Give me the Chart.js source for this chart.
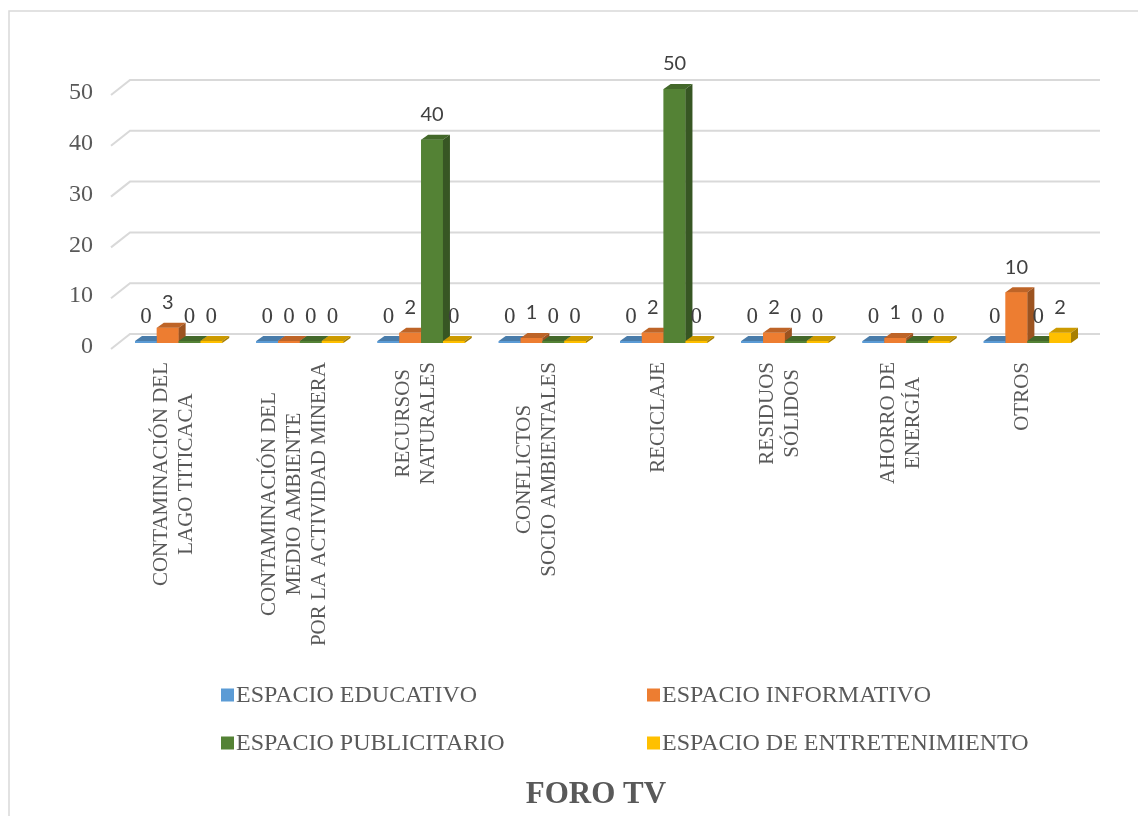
<!DOCTYPE html>
<html><head><meta charset="utf-8">
<script src="https://cdn.jsdelivr.net/npm/chart.js@4.4.1/dist/chart.umd.min.js"></script>
<style>html,body{margin:0;padding:0;background:#fff;} canvas{display:block;}</style>
</head><body>
<canvas id="c" width="1138" height="816"></canvas>
<script>
const categories = [
  ["CONTAMINACIÓN DEL", "LAGO TITICACA"],
  ["CONTAMINACIÓN DEL", "MEDIO AMBIENTE", "POR LA ACTIVIDAD MINERA"],
  ["RECURSOS", "NATURALES"],
  ["CONFLICTOS", "SOCIO AMBIENTALES"],
  ["RECICLAJE"],
  ["RESIDUOS", "SÓLIDOS"],
  ["AHORRO DE", "ENERGÍA"],
  ["OTROS"]
];
const seriesNames = ["ESPACIO EDUCATIVO", "ESPACIO INFORMATIVO", "ESPACIO PUBLICITARIO", "ESPACIO DE ENTRETENIMIENTO"];
const educativo       = [0, 0, 0, 0, 0, 0, 0, 0];
const informativo     = [3, 0, 2, 1, 2, 2, 1, 10];
const publicitario    = [0, 0, 40, 0, 50, 0, 0, 0];
const entretenimiento = [0, 0, 0, 0, 0, 0, 0, 2];
const yTicks = [0, 10, 20, 30, 40, 50];
const chartTitle = "FORO TV";

const seriesData = [educativo, informativo, publicitario, entretenimiento];
const colors = ['#5B9BD5', '#ED7D31', '#548235', '#FFC000'];

function shade(hex, f) {
  const n = parseInt(hex.slice(1), 16);
  const r = Math.round(((n >> 16) & 255) * f), g = Math.round(((n >> 8) & 255) * f), b = Math.round((n & 255) * f);
  return 'rgb(' + r + ',' + g + ',' + b + ')';
}

const DX = 7, DY = -5, BACK_DY = -9, BACK_DX = 12, DIAG_X = 19, DIAG_Y = 15;
const TEXT = '#595959';

const plugin3d = {
  id: 'bars3d',
  beforeDraw(chart) {
    const ctx = chart.ctx;
    ctx.save();
    ctx.fillStyle = '#fff';
    ctx.fillRect(0, 0, chart.width, chart.height);
    ctx.strokeStyle = '#d9d9d9';
    ctx.lineWidth = 1.5;
    ctx.strokeRect(9, 11, 1140, 820);
    ctx.restore();
  },
  beforeDatasetsDraw(chart) {
    const y = chart.scales.y, a = chart.chartArea, ctx = chart.ctx;
    ctx.save();
    ctx.strokeStyle = '#d9d9d9';
    ctx.lineWidth = 2;
    yTicks.forEach(v => {
      const yb = y.getPixelForValue(v) + BACK_DY;
      ctx.beginPath();
      ctx.moveTo(a.left + BACK_DX - DIAG_X, yb + DIAG_Y);
      ctx.lineTo(a.left + BACK_DX, yb);
      ctx.lineTo(a.right + BACK_DX, yb);
      ctx.stroke();
    });
    ctx.restore();
  },
  afterDatasetsDraw(chart) {
    const ctx = chart.ctx;
    ctx.save();
    for (let i = 0; i < chart.data.datasets.length; i++) {
      const meta = chart.getDatasetMeta(i);
      const col = colors[i];
      meta.data.forEach(el => {
        el.draw(ctx);
        const l = el.x - el.width / 2, r = el.x + el.width / 2, t = el.y, b = el.base;
        ctx.fillStyle = shade(col, 0.8);
        ctx.beginPath();
        ctx.moveTo(l, t); ctx.lineTo(l + DX, t + DY); ctx.lineTo(r + DX, t + DY); ctx.lineTo(r, t);
        ctx.closePath(); ctx.fill();
        ctx.fillStyle = shade(col, 0.66);
        ctx.beginPath();
        ctx.moveTo(r, t); ctx.lineTo(r + DX, t + DY); ctx.lineTo(r + DX, b + DY); ctx.lineTo(r, b);
        ctx.closePath(); ctx.fill();
      });
    }
    // data labels
    ctx.textAlign = 'center';
    ctx.textBaseline = 'middle';
    ctx.fillStyle = '#404040';
    for (let i = 0; i < chart.data.datasets.length; i++) {
      const meta = chart.getDatasetMeta(i);
      meta.data.forEach((el, j) => {
        const v = chart.data.datasets[i].data[j];
        ctx.font = v === 0 ? '23px "Liberation Serif"' : '20px Lato';
        ctx.fillText(String(v), el.x, el.y - (v === 0 ? 24 : 25));
      });
    }
    ctx.restore();
  },
  afterDraw(chart) {
    const ctx = chart.ctx, xs = chart.scales.x;
    ctx.save();
    ctx.fillStyle = TEXT;
    // category labels, rotated, centered lines
    ctx.font = '21px "Liberation Serif"';
    ctx.textAlign = 'center';
    ctx.textBaseline = 'middle';
    const lh = 25, top = 362;
    chart.data.labels.forEach((lines, j) => {
      const cx = xs.getPixelForValue(j) - 5;
      const maxW = Math.max(...lines.map(s => ctx.measureText(s).width));
      ctx.save();
      ctx.translate(cx, top + maxW / 2);
      ctx.rotate(-Math.PI / 2);
      lines.forEach((s, k) => {
        ctx.fillText(s, 0, (k - (lines.length - 1) / 2) * lh);
      });
      ctx.restore();
    });
    // legend
    const colX = [221, 647], rowY = [695, 743];
    ctx.font = '24px "Liberation Serif"';
    ctx.textAlign = 'left';
    chart.data.datasets.forEach((ds, i) => {
      const x = colX[i % 2], y = rowY[Math.floor(i / 2)];
      ctx.fillStyle = colors[i];
      ctx.fillRect(x, y - 6.5, 13, 13);
      ctx.fillStyle = TEXT;
      ctx.fillText(ds.label, x + 15, y + 1);
    });
    // title
    ctx.font = 'bold 31px "Liberation Serif"';
    ctx.textAlign = 'center';
    ctx.fillText(chartTitle, 596, 795);
    ctx.restore();
  }
};

new Chart(document.getElementById('c').getContext('2d'), {
  type: 'bar',
  data: {
    labels: categories,
    datasets: seriesNames.map((n, i) => ({
      label: n,
      data: seriesData[i],
      backgroundColor: colors[i],
      borderWidth: 0,
      categoryPercentage: 0.72,
      barPercentage: 1,
      minBarLength: 2
    }))
  },
  options: {
    responsive: false,
    animation: false,
    devicePixelRatio: 1,
    layout: { padding: { top: 89, right: 50, left: 0, bottom: 0 } },
    plugins: { legend: { display: false }, title: { display: false }, tooltip: { enabled: false } },
    scales: {
      x: {
        grid: { display: false, drawTicks: false },
        border: { display: false },
        ticks: { display: false },
        afterFit(s) { s.height = 473; }
      },
      y: {
        min: 0, max: 50,
        grid: { display: false, drawTicks: false },
        border: { display: false },
        ticks: { stepSize: 10, padding: 25, labelOffset: 4, color: TEXT, font: { family: 'Liberation Serif', size: 24 } },
        afterFit(s) { s.width = 118; }
      }
    }
  },
  plugins: [plugin3d]
});
</script>
</body></html>
